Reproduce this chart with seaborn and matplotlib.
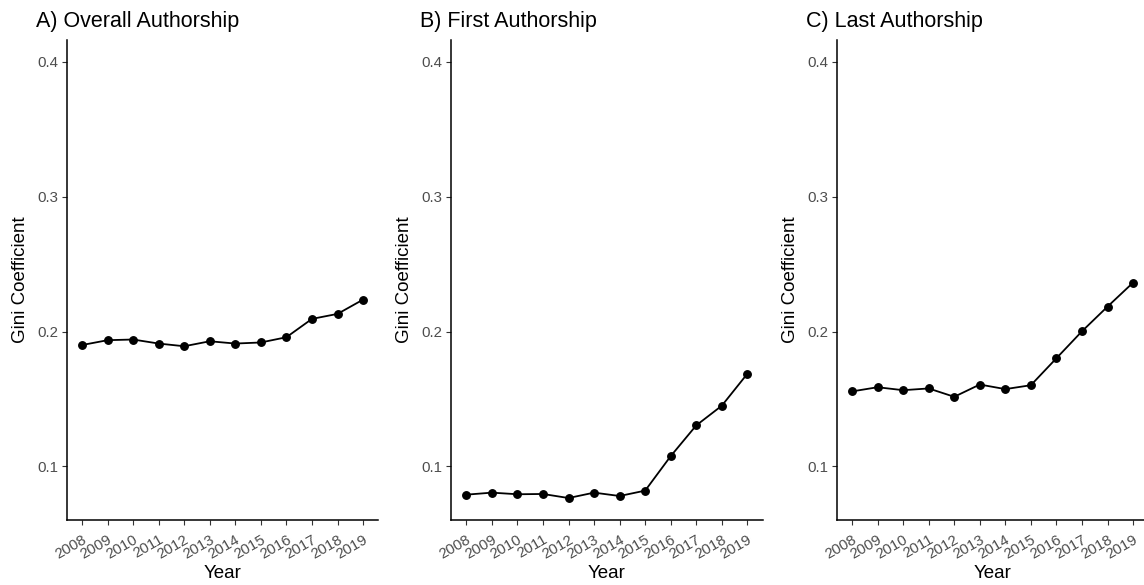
import numpy as np
import pandas as pd
import matplotlib
matplotlib.use("Agg")
import matplotlib.pyplot as plt
import seaborn as sns

years = ["2008", "2009", "2010", "2011", "2012", "2013", "2014", "2015", "2016", "2017", "2018", "2019"]
overall = [0.190, 0.1936, 0.1941, 0.1911, 0.1891, 0.1928, 0.1911, 0.1919, 0.1958, 0.2094, 0.2131, 0.2237]
first = [0.0790, 0.0805, 0.0793, 0.0795, 0.0765, 0.0805, 0.0780, 0.0820, 0.1076, 0.1304, 0.1450, 0.1687]
last = [0.1556, 0.1587, 0.1565, 0.1578, 0.1516, 0.1607, 0.1573, 0.1602, 0.1802, 0.2002, 0.2185, 0.2363]
titles = ["A) Overall Authorship", "B) First Authorship", "C) Last Authorship"]
yticks = [0.1, 0.2, 0.3, 0.4]

sns.set_theme(style="ticks")
plt.rcParams["font.family"] = ["Liberation Sans", "DejaVu Sans"]

W, H = 1144, 585
fig = plt.figure(figsize=(W / 100, H / 100), dpi=100)

lefts_px = [66.7, 451.0, 836.7]
ax_w_px = 311.7
top_px, bot_px = 40, 520

for series, title, lp in zip([overall, first, last], titles, lefts_px):
    ax = fig.add_axes([lp / W, 1 - bot_px / H, ax_w_px / W, (bot_px - top_px) / H])
    df = pd.DataFrame({"Year": years, "Gini": series})
    sns.pointplot(data=df, x="Year", y="Gini", color="black", ax=ax,
                  markersize=5.4, linewidth=1.3, errorbar=None)
    ax.set_xlim(-0.6, len(years) - 0.4)
    ax.set_ylim(0.0602, 0.4163)
    ax.set_yticks(yticks)
    ax.set_yticklabels([f"{v:.1f}" for v in yticks])
    ax.set_xticks(range(len(years)))
    ax.set_xticklabels(years, rotation=30, ha="right", va="top", rotation_mode="anchor")
    ax.tick_params(axis="both", colors="#333333", labelcolor="#4D4D4D", labelsize=10.8,
                   length=3.5, width=0.8, pad=2.5)
    ax.tick_params(axis="x", pad=5.5)
    for s in ["top", "right"]:
        ax.spines[s].set_visible(False)
    for s in ["left", "bottom"]:
        ax.spines[s].set_color("black")
        ax.spines[s].set_linewidth(1.1)
    ax.set_xlabel("Year", fontsize=13.5, color="black")
    ax.set_ylabel("Gini Coefficient", fontsize=13.5, color="black")
    ax.yaxis.set_label_coords((29 - 66.7) / ax_w_px, 0.5)
    ax.xaxis.set_label_coords(0.5, -(565 - bot_px) / (bot_px - top_px))
    fig.text((lp - 30.7) / W, 1 - 27 / H, title, fontsize=15.5, ha="left", va="baseline", color="black")

fig.savefig("out.png", dpi=100)
